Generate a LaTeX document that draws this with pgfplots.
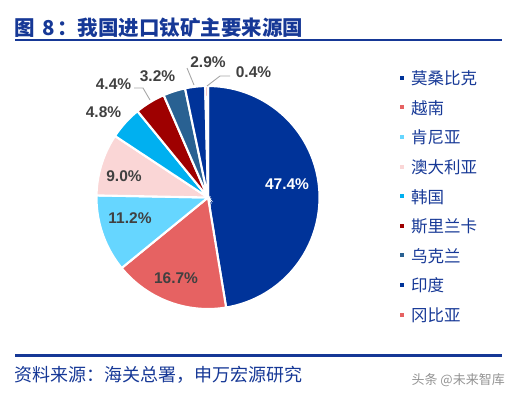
\documentclass[border=0pt]{standalone}
\usepackage{fontspec}
\setmainfont{Liberation Sans}
\newfontfamily\cjk{Noto Sans CJK SC}
\usepackage{pgfplots}
\pgfplotsset{compat=1.18}
\definecolor{tblue}{RGB}{22,56,150}
\definecolor{cmoz}{RGB}{0,51,153}
\definecolor{cvn}{RGB}{230,98,98}
\definecolor{cke}{RGB}{102,214,255}
\definecolor{cau}{RGB}{250,214,214}
\definecolor{ckr}{RGB}{0,176,240}
\definecolor{csl}{RGB}{158,0,0}
\definecolor{cua}{RGB}{41,97,146}
\definecolor{cin}{RGB}{0,51,153}
\definecolor{cgm}{RGB}{230,98,98}
\definecolor{lab}{RGB}{64,64,64}
\definecolor{lead}{RGB}{166,166,166}
\begin{document}
\begin{tikzpicture}
\begin{axis}[x=1bp,y=1bp,xmin=-208,xmax=309,ymin=-197.5,ymax=197.5,
  hide axis,clip=false,
  legend style={at={(axis cs:192,125)},anchor=north west,draw=none,fill=none,inner sep=0pt,
    font=\cjk\fontsize{16.5bp}{16.5bp}\selectfont,text=tblue,row sep=13.6bp,
    nodes={inner sep=0pt,text height=12bp,text depth=4bp},
    /tikz/every odd column/.append style={column sep=7bp}},
  legend cell align=left,
  legend image code/.code={\fill[#1,draw=none] (0bp,1bp) rectangle (4bp,5bp);},
  every axis plot/.append style={draw=white,line width=2.1bp,samples=80},
]
\addplot[fill=cmoz,domain=90-3.6*47.4:90] ({111.5*cos(x)},{111.5*sin(x)}) -- (0,0) -- cycle;
\addlegendentry{莫桑比克}
\addplot[fill=cvn,domain=90-3.6*(47.4+16.7):90-3.6*47.4] ({111.5*cos(x)},{111.5*sin(x)}) -- (0,0) -- cycle;
\addlegendentry{越南}
\addplot[fill=cke,domain=90-3.6*(47.4+16.7+11.2):90-3.6*(47.4+16.7)] ({111.5*cos(x)},{111.5*sin(x)}) -- (0,0) -- cycle;
\addlegendentry{肯尼亚}
\addplot[fill=cau,domain=90-3.6*(75.3+9.0):90-3.6*75.3] ({111.5*cos(x)},{111.5*sin(x)}) -- (0,0) -- cycle;
\addlegendentry{澳大利亚}
\addplot[fill=ckr,domain=90-3.6*(84.3+4.8):90-3.6*84.3] ({111.5*cos(x)},{111.5*sin(x)}) -- (0,0) -- cycle;
\addlegendentry{韩国}
\addplot[fill=csl,domain=90-3.6*(89.1+4.4):90-3.6*89.1] ({111.5*cos(x)},{111.5*sin(x)}) -- (0,0) -- cycle;
\addlegendentry{斯里兰卡}
\addplot[fill=cua,domain=90-3.6*(93.5+3.2):90-3.6*93.5] ({111.5*cos(x)},{111.5*sin(x)}) -- (0,0) -- cycle;
\addlegendentry{乌克兰}
\addplot[fill=cin,domain=90-3.6*(96.7+2.9):90-3.6*96.7] ({111.5*cos(x)},{111.5*sin(x)}) -- (0,0) -- cycle;
\addlegendentry{印度}
\addplot[fill=cgm,domain=90-3.6*(99.6+0.4):90-3.6*99.6] ({111.5*cos(x)},{111.5*sin(x)}) -- (0,0) -- cycle;
\addlegendentry{冈比亚}
% labels
\begin{scope}[every node/.style={inner sep=0pt,font=\bfseries\fontsize{15.5bp}{15.5bp}\selectfont,text=lab}]
\node[text=white] at (axis cs:79,13.5) {47.4\%};
\node at (axis cs:-32,-81) {16.7\%};
\node at (axis cs:-78,-21) {11.2\%};
\node at (axis cs:-84,21) {9.0\%};
\node at (axis cs:-104.5,85.5) {4.8\%};
\node at (axis cs:-94.5,113.5) {4.4\%};
\node at (axis cs:-50.5,121.5) {3.2\%};
\node at (axis cs:0,135) {2.9\%};
\node at (axis cs:45.5,125) {0.4\%};
\end{scope}
\draw[lead,line width=0.9bp] (axis cs:-74,109.5) -- (axis cs:-65,109.5) -- (axis cs:-58,97.5);
\draw[lead,line width=0.9bp] (axis cs:-21,129.5) -- (axis cs:-14,112.5);
\draw[lead,line width=0.9bp] (axis cs:22,121.5) -- (axis cs:12,121.5) -- (axis cs:-1,111.5);
% title and rules
\node[anchor=base west,inner sep=0pt,text=tblue,font=\cjk\bfseries\fontsize{20.5bp}{20.5bp}\selectfont] at (axis cs:-194,162.5) {图\hspace{0.4em}8\hspace{0.1em}：我国进口钛矿主要来源国};
\draw[tblue,line width=2bp] (axis cs:-193,158) -- (axis cs:294,158);
\draw[tblue,line width=2.5bp] (axis cs:-193,-158) -- (axis cs:294,-158);
\node[anchor=base west,inner sep=0pt,text=tblue,font=\cjk\fontsize{18bp}{18bp}\selectfont] at (axis cs:-193.5,-183.5) {资料来源：海关总署，申万宏源研究};
\node[anchor=base east,inner sep=0pt,text=gray!85,font=\cjk\fontsize{13bp}{13bp}\selectfont] at (axis cs:297,-186.5) {头条 @未来智库};
\path (axis cs:-208,-197.5) rectangle (axis cs:309,197.5);
\end{axis}
\end{tikzpicture}
\end{document}
